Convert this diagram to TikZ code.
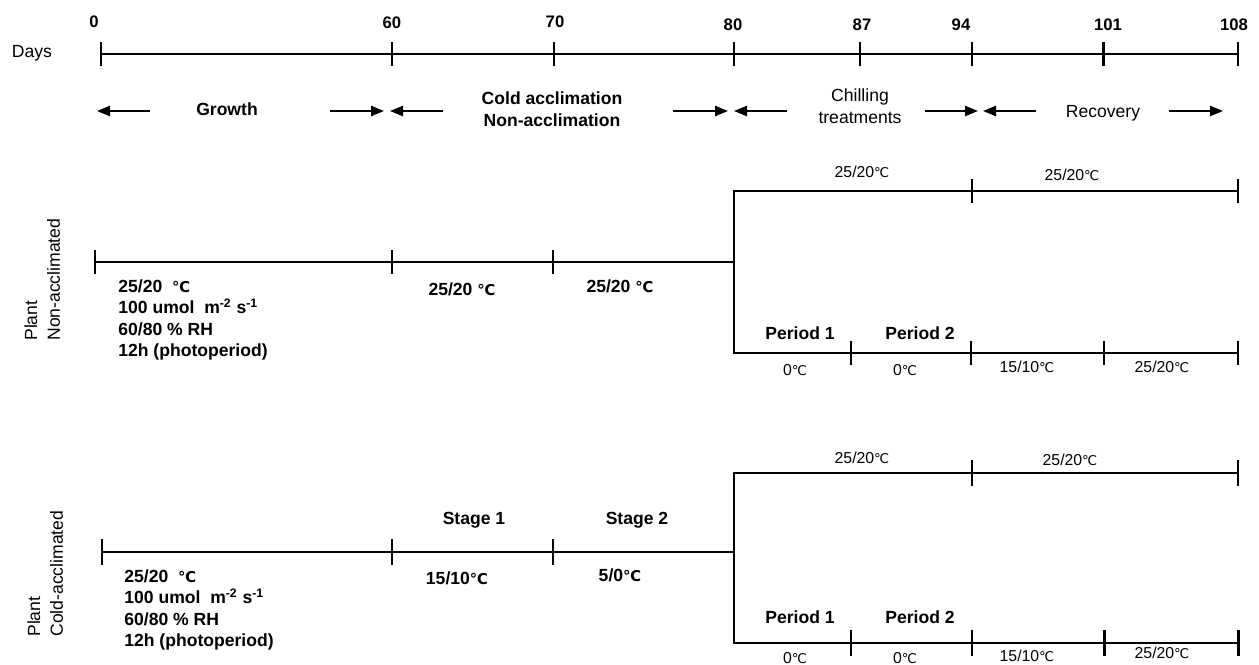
\documentclass[tikz,border=0pt]{standalone}
\usepackage{fontspec}
\setmainfont{Liberation Sans}
\newfontfamily\symfont[Scale=0.85]{DejaVu Sans}
\newcommand{\dC}{{\symfont ℃}}
\usetikzlibrary{arrows.meta}

\begin{document}
\begin{tikzpicture}[
    x=0.02cm, y=-0.02cm,
    lbl/.style={font=\fontsize{10}{12.5}\selectfont, inner sep=0pt, align=center},
    blbl/.style={font=\fontsize{10}{12.5}\selectfont\bfseries, inner sep=0pt, align=center},
    num/.style={font=\fontsize{9.5}{11}\selectfont\bfseries, inner sep=0pt},
    tmp/.style={font=\fontsize{9}{11}\selectfont, inner sep=0pt},
    cond/.style={font=\fontsize{10}{12.2}\selectfont\bfseries, inner sep=0pt, align=left, anchor=west},
    side/.style={font=\fontsize{10}{13}\selectfont, inner sep=0pt, align=left, rotate=90, anchor=north west},
    axis/.style={line width=1.1pt},
    heavy/.style={line width=1.7pt},
    arr/.style={line width=1.15pt, -{Triangle[length=7.4pt,width=5.8pt]}}
  ]
  \useasboundingbox (0,0) rectangle (1259,665);

  % day axis
  \coordinate (d0) at (101,54);
  \coordinate (d60) at (392,54);
  \coordinate (d70) at (554,54);
  \coordinate (d80) at (734,54);
  \coordinate (d87) at (860,54);
  \coordinate (d94) at (972,54);
  \coordinate (d101) at (1103,54);
  \coordinate (d108) at (1238,54);
  \draw[axis] (d0) -- (d108);
  \foreach \c in {d0,d60,d94,d108}
    \draw[axis] ([yshift=6.8pt]\c) -- ([yshift=-6.8pt]\c);
  \foreach \c in {d70,d80,d87,d101}
    \draw[heavy] ([yshift=6.8pt]\c) -- ([yshift=-6.8pt]\c);

  \node[lbl] (days) at (32,53) {Days};
  \node[num] (n0) at (94,22) {0};
  \node[num] (n60) at (392,23) {60};
  \node[num] (n70) at (555,22) {70};
  \node[num] (n80) at (733,25) {80};
  \node[num] (n87) at (862,25) {87};
  \node[num] (n94) at (961,25) {94};
  \node[num] (n101) at (1108,25) {101};
  \node[num] (n108) at (1234,25) {108};

  % phases
  \coordinate (g0) at (97,111);   \coordinate (g1) at (150,111);
  \coordinate (g2) at (330,111);  \coordinate (g3) at (384,111);
  \coordinate (k0) at (390,111);  \coordinate (k1) at (443,111);
  \coordinate (k2) at (673,111);  \coordinate (k3) at (728,111);
  \coordinate (h0) at (734,111);  \coordinate (h1) at (787,111);
  \coordinate (h2) at (925,111);  \coordinate (h3) at (978,111);
  \coordinate (r0) at (983,111);  \coordinate (r1) at (1036,111);
  \coordinate (r2) at (1169,111); \coordinate (r3) at (1223,111);
  \draw[arr] (g1) -- (g0);
  \draw[arr] (g2) -- (g3);
  \draw[arr] (k1) -- (k0);
  \draw[arr] (k2) -- (k3);
  \draw[arr] (h1) -- (h0);
  \draw[arr] (h2) -- (h3);
  \draw[arr] (r1) -- (r0);
  \draw[arr] (r2) -- (r3);

  \node[blbl] (growth) at (227,109) {Growth};
  \node[blbl] (cold) at (552,109) {Cold acclimation\\Non-acclimation};
  \node[lbl] (chill) at (860,106) {Chilling\\treatments};
  \node[lbl] (recov) at (1103,113) {Recovery};

  % non-acclimated plants
  \node[side] (pna) at (24,341) {Plant\\Non-acclimated};
  \coordinate (a0) at (95,262);
  \coordinate (a60) at (392,262);
  \coordinate (a70) at (553,262);
  \coordinate (a80) at (734,262);
  \coordinate (aT) at (734,191);
  \coordinate (aT94) at (972,191);
  \coordinate (aT108) at (1238,191);
  \coordinate (aB) at (734,353);
  \coordinate (aB87) at (851,353);
  \coordinate (aB94) at (971,353);
  \coordinate (aB101) at (1104,353);
  \coordinate (aB108) at (1238,353);
  \draw[axis] (a0) -- (a80);
  \draw[axis] (aT108) -- (aT) -- (aB) -- (aB108);
  \foreach \c in {a0,a60,a70,aT94,aT108,aB87,aB94,aB101,aB108}
    \draw[axis] ([yshift=6.8pt]\c) -- ([yshift=-6.8pt]\c);

  \node[cond] (acond) at (118,320) {25/20\ \ \dC\\100 umol\ \ m\textsuperscript{-2} s\textsuperscript{-1}\\60/80 \% RH\\12h (photoperiod)};
  \node[blbl] (aS1) at (462,289) {25/20 \dC};
  \node[blbl] (aS2) at (620,286) {25/20 \dC};
  \node[tmp] (aT1) at (862,172) {25/20\dC};
  \node[tmp] (aT2) at (1072,175) {25/20\dC};
  \node[blbl] (aP1) at (800,333) {Period 1};
  \node[blbl] (aP2) at (920,333) {Period 2};
  \node[tmp] (aB1) at (795,370) {0\dC};
  \node[tmp] (aB2) at (905,370) {0\dC};
  \node[tmp] (aB3) at (1027,367) {15/10\dC};
  \node[tmp] (aB4) at (1162,367) {25/20\dC};

  % cold-acclimated plants
  \node[side] (pca) at (27,637) {Plant\\Cold-acclimated};
  \coordinate (c0) at (102,552);
  \coordinate (c60) at (392,552);
  \coordinate (c70) at (553,552);
  \coordinate (c80) at (734,552);
  \coordinate (cT) at (734,473);
  \coordinate (cT94) at (972,473);
  \coordinate (cT108) at (1238,473);
  \coordinate (cB) at (734,643);
  \coordinate (cB87) at (851,643);
  \coordinate (cB94) at (972,643);
  \coordinate (cB101) at (1104,643);
  \coordinate (cB108) at (1238,643);
  \draw[axis] (c0) -- (c80);
  \draw[heavy] (cT108) -- (cT) -- (cB) -- (cB108);
  \foreach \c in {c0,c60,cT94,cT108,cB87}
    \draw[axis] ([yshift=7.5pt]\c) -- ([yshift=-7.5pt]\c);
  \foreach \c in {c70,cB94,cB101,cB108}
    \draw[heavy] ([yshift=7.5pt]\c) -- ([yshift=-7.5pt]\c);

  \node[cond] (ccond) at (124,610) {25/20\ \ \dC\\100 umol\ \ m\textsuperscript{-2} s\textsuperscript{-1}\\60/80 \% RH\\12h (photoperiod)};
  \node[blbl] (cS1) at (474,520) {Stage 1};
  \node[blbl] (cS2) at (637,520) {Stage 2};
  \node[blbl] (cS1t) at (457,578) {15/10\dC};
  \node[blbl] (cS2t) at (620,575) {5/0\dC};
  \node[tmp] (cT1) at (862,458) {25/20\dC};
  \node[tmp] (cT2) at (1070,460) {25/20\dC};
  \node[blbl] (cP1) at (800,617) {Period 1};
  \node[blbl] (cP2) at (920,617) {Period 2};
  \node[tmp] (cB1) at (795,658) {0\dC};
  \node[tmp] (cB2) at (905,658) {0\dC};
  \node[tmp] (cB3) at (1027,656) {15/10\dC};
  \node[tmp] (cB4) at (1162,653) {25/20\dC};
\end{tikzpicture}
\end{document}
